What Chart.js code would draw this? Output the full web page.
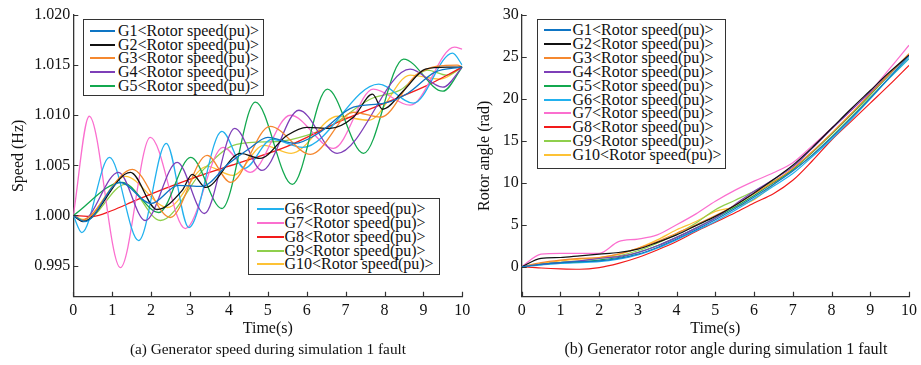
<!DOCTYPE html>
<html><head><meta charset="utf-8">
<script src="https://cdn.jsdelivr.net/npm/chart.js@4.4.1/dist/chart.umd.min.js"></script>
<style>
html,body{margin:0;padding:0;background:#fff;width:921px;height:365px;overflow:hidden;font-family:"Liberation Serif","Times New Roman",serif;}
canvas{position:absolute;top:0;}
.legend{position:absolute;border:1px solid #333;background:#fff;box-sizing:border-box;}
.sw{position:absolute;height:2px;}
.tx{position:absolute;font-size:16px;line-height:14px;height:14px;color:#111;white-space:nowrap;}
.cap{position:absolute;color:#111;white-space:nowrap;transform:translate(-50%,-50%);}
</style></head><body>
<canvas id="speed" width="475" height="365" style="left:0"></canvas>
<canvas id="angle" width="456" height="365" style="left:465px"></canvas>
<div class="cap" style="left:268px;top:349px;font-size:15.3px">(a) Generator speed during simulation 1 fault</div>
<div class="cap" style="left:726px;top:349px;font-size:16px">(b) Generator rotor angle during simulation 1 fault</div>
<script>
// ---------- data ----------
const genLabels = ['G1<Rotor speed(pu)>','G2<Rotor speed(pu)>','G3<Rotor speed(pu)>','G4<Rotor speed(pu)>','G5<Rotor speed(pu)>',
                   'G6<Rotor speed(pu)>','G7<Rotor speed(pu)>','G8<Rotor speed(pu)>','G9<Rotor speed(pu)>','G10<Rotor speed(pu)>'];
const genColors = ['#0e75c4','#111111','#f5882f','#7e3fb8','#13a84f','#22b1ee','#fb6fcf','#f21a1a','#8fcf4c','#fdc235'];

const timeTicks = [0,1,2,3,4,5,6,7,8,9,10];
const speedTicks = [0.995,1.000,1.005,1.010,1.015,1.020];
const angleTicks = [0,5,10,15,20,25,30];

// speed (Hz): [time, value]
const speedG1 = [[0,1.0],[0.3,0.9994],[1.2,1.0033],[2.0,1.0012],[2.7,1.0030],[3.3,1.0029],[4.0,1.0052],[4.5,1.0066],[5.0,1.0078],[5.7,1.0072],[6.3,1.0082],[7.2,1.0108],[8.0,1.0112],[8.6,1.0122],[9.3,1.0143],[10,1.0148]];
const speedG2 = [[0,1.0],[0.25,0.9994],[1.47,1.0043],[2.15,1.0006],[2.8,1.0025],[3.06,1.0041],[3.4,1.0028],[4.3,1.0062],[4.8,1.0057],[5.5,1.0080],[6.0,1.0088],[6.6,1.0087],[7.2,1.0098],[7.69,1.0121],[7.95,1.0106],[8.5,1.0125],[9.05,1.0146],[9.6,1.0148],[10,1.0148]];
const speedG3 = [[0,1.0],[0.2,0.9995],[1.52,1.0046],[2.49,0.9998],[3.44,1.0060],[4.04,1.0033],[5.06,1.0089],[6.1,1.0061],[7.2,1.0103],[7.9,1.0098],[8.84,1.0141],[9.87,1.0150],[10,1.0148]];
const speedG4 = [[0,1.0],[0.23,0.9995],[1.16,1.0043],[1.85,0.9995],[2.67,1.0053],[3.37,1.0002],[4.15,1.0087],[4.85,1.0045],[5.8,1.0105],[6.78,1.0062],[8.66,1.0146],[9.5,1.0128],[10,1.0148]];
const speedG5 = [[0,1.0],[1.25,1.0033],[2.2,1.0003],[3.02,1.0058],[3.82,1.0007],[4.68,1.0113],[5.63,1.0031],[6.53,1.0126],[7.46,1.0062],[8.49,1.0156],[9.5,1.0124],[10,1.0148]];
const speedG6 = [[0,1.0],[0.22,0.9983],[0.93,1.0058],[1.68,0.9975],[2.39,1.0072],[2.97,0.9988],[3.82,1.0084],[4.4,1.0047],[5.1,1.0076],[5.9,1.0068],[7.85,1.0131],[8.74,1.0112],[9.75,1.0162],[10,1.0150]];
const speedG7 = [[0,1.0],[0.41,1.0099],[1.21,0.9948],[1.98,1.0078],[2.88,0.9987],[3.85,1.0068],[4.55,1.0043],[5.58,1.0100],[6.69,1.0067],[7.71,1.0126],[8.66,1.0110],[9.8,1.0168],[10,1.0166]];
const speedG8 = [[0,1.0],[0.5,0.9999],[1.0,1.0005],[1.6,1.0015],[2.5,1.0029],[3.5,1.0043],[4.3,1.0053],[5.5,1.0069],[6.86,1.0094],[8.0,1.0112],[9.0,1.0128],[10,1.0148]];
const speedG9 = [[0,1.0],[0.3,0.9995],[1.34,1.0031],[2.24,0.9995],[3.35,1.0046],[4.2,1.0071],[5.3,1.0074],[6.0,1.0080],[6.6,1.0089],[7.63,1.0116],[8.4,1.0125],[9.1,1.0145],[9.6,1.0140],[10,1.0148]];
const speedG10 = [[0,1.0],[0.25,0.9996],[1.34,1.0039],[2.42,1.0008],[3.44,1.0049],[4.1,1.0040],[4.9,1.0070],[5.6,1.0062],[6.8,1.0099],[7.6,1.0095],[8.66,1.0140],[9.43,1.0136],[10,1.0148]];

// rotor angle (rad) on a common time grid
const angleTime = [0,0.5,1,1.5,2,2.5,3,3.5,4,4.5,5,5.5,6,6.5,7,7.5,8,8.5,9,9.5,10];
const angleG1 = [0,0.3,0.5,0.6,0.7,1.0,1.5,2.3,3.3,4.4,5.6,6.9,8.3,9.8,11.4,13.3,15.4,17.7,20.1,22.6,25.1];
const angleG2 = [0,1.0,1.1,1.3,1.5,1.7,2.1,2.9,3.8,4.9,6.0,7.3,8.8,10.4,12.1,14.2,16.5,18.8,21.0,23.2,25.2];
const angleG3 = [0,0.5,0.8,1.0,1.1,1.5,2.2,3.0,4.0,5.0,6.1,7.3,8.7,10.1,11.7,13.7,15.9,18.2,20.6,23.0,25.4];
const angleG4 = [0,0.3,0.5,0.7,1.0,1.2,1.7,2.5,3.5,4.6,5.8,7.4,9.0,10.4,11.9,14.1,16.4,18.6,20.8,23.0,25.3];
const angleG5 = [0,0.3,0.5,0.6,0.8,1.1,1.7,2.5,3.5,4.6,5.8,7.1,8.5,10.0,11.6,13.6,15.8,18.1,20.5,22.9,25.2];
const angleG6 = [0,0.2,0.4,0.5,0.6,0.9,1.4,2.2,3.2,4.3,5.4,6.7,8.1,9.6,11.1,13.1,15.2,17.5,20.0,22.5,24.8];
const angleG7 = [0,1.5,1.6,1.6,1.6,3.0,3.3,3.8,5.0,6.3,7.8,9.1,10.2,11.2,12.4,14.4,16.5,18.6,20.9,23.6,26.4];
const angleG8 = [0,-0.15,-0.25,-0.3,-0.1,0.4,1.1,2.0,3.0,4.2,5.3,6.4,7.6,8.7,10.3,12.6,15.1,17.3,19.5,21.7,24.0];
const angleG9 = [0,0.3,0.5,0.7,1.0,1.3,1.9,2.8,3.9,5.2,6.8,7.9,9.0,10.2,11.5,13.3,15.5,17.8,20.2,22.5,24.8];
const angleG10 = [0,0.4,0.7,0.9,1.1,1.5,2.2,3.2,4.4,5.4,6.6,7.1,8.0,9.8,11.6,13.7,15.9,18.2,20.6,23.0,25.3];

const speedSeries = [speedG1,speedG2,speedG3,speedG4,speedG5,speedG6,speedG7,speedG8,speedG9,speedG10];
const angleSeries = [angleG1,angleG2,angleG3,angleG4,angleG5,angleG6,angleG7,angleG8,angleG9,angleG10];

// ---------- chart setup ----------
const FONT = '"Liberation Serif","Times New Roman",serif';
const AXIS = '#333';
const inwardTicks = {id:'inwardTicks', afterDraw(chart){
  const ctx = chart.ctx, a = chart.chartArea, xs = chart.scales.x, ys = chart.scales.y;
  ctx.save(); ctx.strokeStyle = AXIS; ctx.lineWidth = 1.2; ctx.beginPath();
  xs.ticks.forEach(t => { const p = Math.round(xs.getPixelForValue(t.value)) + 0.5; ctx.moveTo(p, a.bottom); ctx.lineTo(p, a.bottom - 5); });
  ys.ticks.forEach(t => { const p = Math.round(ys.getPixelForValue(t.value)) + 0.5; ctx.moveTo(a.left, p); ctx.lineTo(a.left + 5, p); });
  ctx.stroke(); ctx.restore();
}};

function makeChart(id, datasets, cfg){
  return new Chart(document.getElementById(id), {
    type: 'line',
    data: {datasets},
    options: {
      responsive: false, animation: false, events: [],
      layout: {padding: {left: 0, right: cfg.padRight, top: 15, bottom: 0}},
      plugins: {legend: {display: false}, tooltip: {enabled: false}},
      scales: {
        x: {type: 'linear', min: 0, max: 10,
            afterBuildTicks: s => { s.ticks = timeTicks.map(v => ({value: v})); },
            afterFit: s => { s.height = 68.3; },
            grid: {display: false, drawTicks: false},
            border: {display: true, color: AXIS, width: 1.3},
            ticks: {padding: 4, color: '#111', font: {family: FONT, size: 16}, maxRotation: 0, autoSkip: false},
            title: {display: true, text: 'Time(s)', color: '#111', font: {family: FONT, size: 16}, padding: {top: 0, bottom: 26.4}}},
        y: {type: 'linear', min: cfg.yMin, max: cfg.yMax,
            afterBuildTicks: s => { s.ticks = cfg.yTicks.map(v => ({value: v})); },
            afterFit: s => { s.width = cfg.yWidth; },
            grid: {display: false, drawTicks: false},
            border: {display: true, color: AXIS, width: 1.3},
            ticks: {padding: 3, color: '#111', font: {family: FONT, size: 16}, callback: cfg.fmt},
            title: {display: true, text: cfg.yTitle, color: '#111', font: {family: FONT, size: 16}, padding: {top: cfg.yTitlePad, bottom: 0}}}
      }
    },
    plugins: [inwardTicks]
  });
}

const speedSets = speedSeries.map((s, i) => ({
  label: genLabels[i], data: s.map(p => ({x: p[0], y: p[1]})),
  borderColor: genColors[i], backgroundColor: genColors[i], borderWidth: 1.3,
  pointRadius: 0, cubicInterpolationMode: 'monotone', fill: false
}));
const angleSets = angleSeries.map((s, i) => ({
  label: genLabels[i], data: s.map((v, k) => ({x: angleTime[k], y: v})),
  borderColor: genColors[i], backgroundColor: genColors[i], borderWidth: 1.2,
  pointRadius: 0, cubicInterpolationMode: 'monotone', fill: false
}));

const speedChart = makeChart('speed', speedSets, {padRight: 12.7, yMin: 0.9919, yMax: 1.020, yTicks: speedTicks,
  yWidth: 73.3, yTitle: 'Speed (Hz)', yTitlePad: 9.4, fmt: v => Number(v).toFixed(3)});
const angleChart = makeChart('angle', angleSets, {padRight: 10.3, yMin: -3.57, yMax: 30, yTicks: angleTicks,
  yWidth: 56.7, yTitle: 'Rotor angle (rad)', yTitlePad: 10.4, fmt: v => String(v)});

// ---------- legends (built from the chart datasets) ----------
function buildLegend(chart, idxs, b){
  const box = document.createElement('div');
  box.className = 'legend';
  Object.assign(box.style, {left: b.left + 'px', top: b.top + 'px', width: b.width + 'px', height: b.height + 'px'});
  idxs.forEach((di, r) => {
    const ds = chart.data.datasets[di];
    const cy = b.row0 + b.step * r - b.top - 1;
    const sw = document.createElement('div');
    sw.className = 'sw';
    Object.assign(sw.style, {left: b.l0 + 'px', width: (b.l1 - b.l0) + 'px', top: (cy - 1) + 'px', background: ds.borderColor});
    const tx = document.createElement('div');
    tx.className = 'tx';
    tx.textContent = ds.label;
    Object.assign(tx.style, {left: b.tx + 'px', top: (cy - 7) + 'px'});
    box.appendChild(sw); box.appendChild(tx);
  });
  document.body.appendChild(box);
}
buildLegend(speedChart, [0,1,2,3,4], {left: 83, top: 19, width: 181, height: 77, row0: 30.7, step: 13.8, l0: 6, l1: 31, tx: 34});
buildLegend(speedChart, [5,6,7,8,9], {left: 248, top: 198, width: 192, height: 77, row0: 209.3, step: 13.75, l0: 8, l1: 35, tx: 35.5});
buildLegend(angleChart, [0,1,2,3,4,5,6,7,8,9], {left: 537, top: 19, width: 189, height: 150, row0: 30, step: 13.9, l0: 6, l1: 33, tx: 34.5});
</script>
</body></html>
